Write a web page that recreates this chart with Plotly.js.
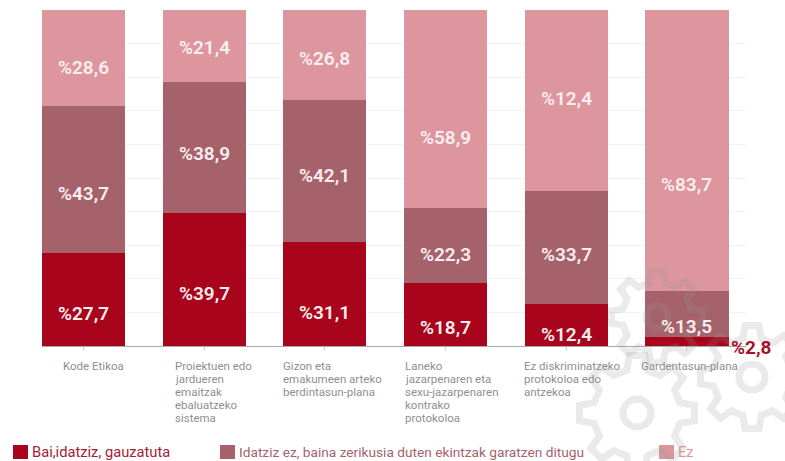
<!DOCTYPE html>
<html>
<head>
<meta charset="utf-8">
<script src="https://cdn.plot.ly/plotly-3.0.1.min.js"></script>
<style>html,body{margin:0;padding:0;background:#fff}#c{width:785px;height:461px}</style>
</head>
<body>
<div id="c"></div>
<script>
var categories = ["Kode Etikoa","Proiektuen edo<br>jardueren<br>emaitzak<br>ebaluatzeko<br>sistema","Gizon eta<br>emakumeen arteko<br>berdintasun-plana","Laneko<br>jazarpenaren eta<br>sexu-jazarpenaren<br>kontrako<br>protokoloa","Ez diskriminatzeko<br>protokoloa edo<br>antzekoa","Gardentasun-plana"];
var bai = [27.7,39.7,31.1,18.7,12.4,2.8];
var idatziz = [43.7,38.9,42.1,22.3,33.7,13.5];
var ez = [28.6,21.4,26.8,58.9,53.9,83.7];
var baiLabels = ["%27,7","%39,7","%31,1","%18,7","%12,4","%2,8"];
var idatzizLabels = ["%43,7","%38,9","%42,1","%22,3","%33,7","%13,5"];
var ezLabels = ["%28,6","%21,4","%26,8","%58,9","%12,4","%83,7"];
var seriesNames = ["Bai,idatziz, gauzatuta","Idatziz ez, baina zerikusia duten ekintzak garatzen ditugu","Ez"];
var seriesColors = ["#a8041c","#a5626b","#dd959e"];
var legendTextColors = ["#a51a35","#a5626b","#dd959e"];
var legendSizes = [14.7,13.7,14.5];

var W = 785, H = 461, L = 42, R = 39, T = 10, B = 115;
var PW = W - L - R, PH = H - T - B;
function px(x) { return (x - L) / PW; }
function py(y) { return 1 - (y - T) / PH; }
var idx = categories.map(function (_, i) { return i; });

var baiShift = [-14,-14,-19,-13,-9,-6];
var idatzizShift = [-14,-6,-5,-9,-7,-13];
var ezShift = [-9,-2,-3,-28,2,-34];
var tickShift = [-23,-31,-44,-43,-44,-48];

var traces = [bai, idatziz, ez].map(function (v, s) {
  return {type:"bar", x:idx, y:v, name:seriesNames[s], marker:{color:seriesColors[s]}, width:0.688, showlegend:false, hoverinfo:"skip"};
});

var annotations = [];
function addLabels(values, bases, labels, shifts) {
  values.forEach(function (v, i) {
    var last = labels === baiLabels && i === 5;
    annotations.push({x:i, y:bases[i] + v / 2, xref:"x", yref:"y", text:labels[i], showarrow:false,
      yshift:shifts[i], xshift:last ? 65 : 0,
      font:{family:"Roboto, sans-serif", size:19, color:last ? "#a8102c" : "#fbeef0", weight:last ? 700 : 600}});
  });
}
addLabels(bai, bai.map(function(){return 0;}), baiLabels, baiShift);
addLabels(idatziz, bai, idatzizLabels, idatzizShift);
addLabels(ez, bai.map(function(b,i){return b + idatziz[i];}), ezLabels, ezShift);

categories.forEach(function (c, i) {
  c.split("<br>").forEach(function (line, k) {
    annotations.push({x:i, y:0, xref:"x", yref:"y", text:line, showarrow:false, xanchor:"left", yanchor:"top", align:"left",
      xshift:tickShift[i], yshift:-11 - 13 * k, font:{family:"Roboto, sans-serif", size:11.5, color:"#8f8f8f"}});
  });
});

var legendX = [13, 220, 659];
var shapes = [];
seriesNames.forEach(function (n, i) {
  annotations.push({x:px(legendX[i] + 17), y:py(452), xref:"paper", yref:"paper", text:n, showarrow:false,
    xanchor:"left", yanchor:"middle", font:{family:"Roboto, sans-serif", size:legendSizes[i], color:legendTextColors[i]}});
  shapes.push({type:"rect", xref:"paper", yref:"paper", x0:px(legendX[i]), x1:px(legendX[i] + 15),
    y0:py(459), y1:py(445), fillcolor:seriesColors[i], line:{width:0}});
});

function gearPath(cx, cy, r, n) {
  var out = r, inn = 0.76 * r, d = "", k, step = 2 * Math.PI / n;
  function pt(rad, a) { return px(cx + rad * Math.cos(a)) + "," + py(cy + rad * Math.sin(a)); }
  for (k = 0; k < n; k++) {
    var a = k * step;
    d += (k ? "L" : "M") + pt(inn, a - step * 0.3) + "L" + pt(out, a - step * 0.17) + "L" + pt(out, a + step * 0.17) + "L" + pt(inn, a + step * 0.3);
  }
  return d + "Z";
}
[[637,413,58,8,14],[752,377,52,8,13],[657,317,46,8,11]].forEach(function (g) {
  var col = "rgba(150,150,150,0.2)";
  shapes.push({type:"path", xref:"paper", yref:"paper", path:gearPath(g[0],g[1],g[2],g[3]), line:{color:col,width:7}, layer:"above"});
  shapes.push({type:"circle", xref:"paper", yref:"paper", x0:px(g[0]-g[4]), x1:px(g[0]+g[4]), y0:py(g[1]+g[4]), y1:py(g[1]-g[4]), line:{color:col,width:7}, layer:"above"});
});

var layout = {
  width:W, height:H, margin:{l:L,r:R,t:T,b:B,pad:0}, paper_bgcolor:"#fff", plot_bgcolor:"#fff",
  barmode:"stack", showlegend:false,
  font:{family:"Roboto, sans-serif"},
  xaxis:{range:[-0.344,5.489], tickmode:"array", tickvals:idx, ticktext:idx.map(function(){return "";}), showgrid:false, zeroline:false,
    showline:true, linecolor:"#a9a9a9", linewidth:1, ticks:"outside", ticklen:4, tickcolor:"#d0d0d0", tickwidth:1, fixedrange:true},
  yaxis:{range:[0,100], dtick:10, showticklabels:false, showgrid:true, gridcolor:"#f3f1f1", gridwidth:1, zeroline:false, fixedrange:true},
  annotations:annotations, shapes:shapes
};
Plotly.newPlot("c", traces, layout, {displayModeBar:false, staticPlot:true});
</script>
</body>
</html>
